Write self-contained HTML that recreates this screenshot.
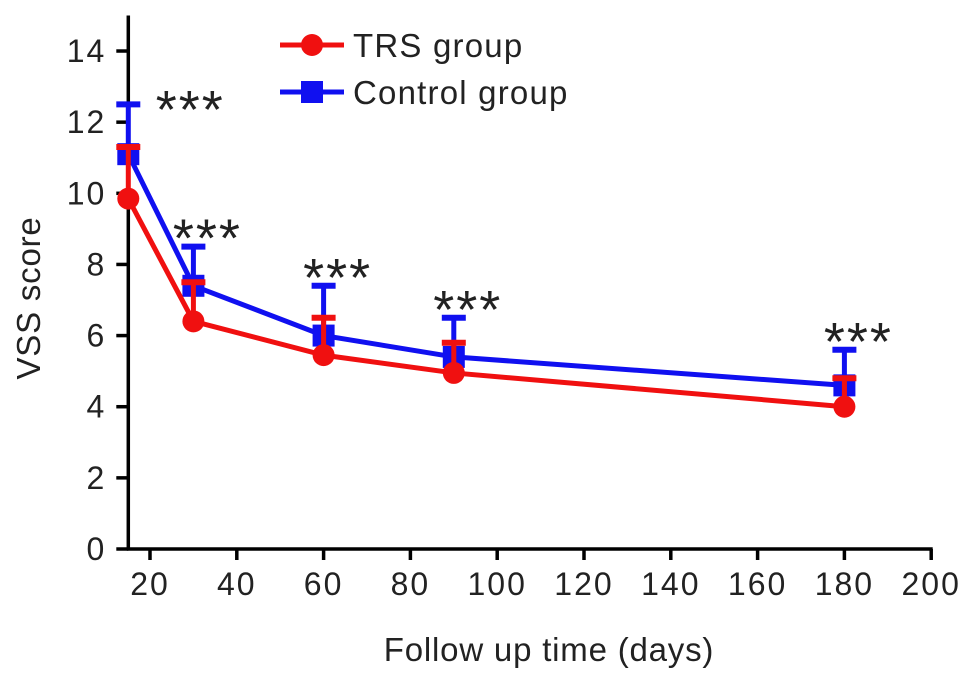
<!DOCTYPE html>
<html><head><meta charset="utf-8"><style>
body{margin:0;background:#fff}
svg text{font-family:"Liberation Sans",sans-serif}
</style></head><body>
<svg id="chart" width="969" height="681" viewBox="0 0 969 681">
<g id="axes"></g><g id="series"></g><g id="legend"></g>
</svg>
<script>
const days=[15,30,60,90,180];
const trsMean=[9.85,6.4,5.45,4.95,4.0];
const trsUpper=[11.3,7.5,6.5,5.8,4.8];
const ctrlMean=[11.1,7.4,6.0,5.4,4.6];
const ctrlUpper=[12.5,8.5,7.4,6.5,5.6];
const xTicks=[20,40,60,80,100,120,140,160,180,200];
const yTicks=[0,2,4,6,8,10,12,14];
const sigLabels=["***","***","***","***","***"];
const NS="http://www.w3.org/2000/svg";
const X=v=>150+(v-20)*4.34;
const Y=v=>549-v*35.57;
function mk(p,t,a){const e=document.createElementNS(NS,t);for(const k in a)e.setAttribute(k,a[k]);p.appendChild(e);return e;}
const ax=document.getElementById('axes'),se=document.getElementById('series'),lg=document.getElementById('legend');
let l=mk(ax,'line',{x1:X(15),y1:Y(15),x2:X(15),y2:Y(0)+1.5,stroke:'#000','stroke-width':3.5});

l=mk(ax,'line',{x1:X(15)-1.5,y1:Y(0),x2:X(200)+1.5,y2:Y(0),stroke:'#000','stroke-width':3.5});

xTicks.forEach(v=>{mk(ax,'line',{x1:X(v),y1:Y(0),x2:X(v),y2:Y(0)+11,stroke:'#000','stroke-width':3.5});
const t=mk(ax,'text',{x:X(v),y:Y(0)+46,'text-anchor':'middle','font-size':32,'letter-spacing':2,fill:'#222'});t.textContent=v;
});
yTicks.forEach(v=>{mk(ax,'line',{x1:X(15)-12,y1:Y(v),x2:X(15),y2:Y(v),stroke:'#000','stroke-width':3.5});
const t=mk(ax,'text',{x:X(15)-22,y:Y(v)+11,'text-anchor':'end','font-size':32,'letter-spacing':2,fill:'#222'});t.textContent=v;
});
let t=mk(ax,'text',{x:549,y:661,'text-anchor':'middle','font-size':33,'letter-spacing':0.8,fill:'#222'});t.textContent='Follow up time (days)';

t=mk(ax,'text',{x:0,y:0,'text-anchor':'middle','font-size':33,'letter-spacing':0.8,fill:'#222',transform:'translate(40,298) rotate(-90)'});t.textContent='VSS score';

function series(mean,upper,color,shape,name){
const g=mk(se,'g',{});
mk(g,'polyline',{points:days.map((d,i)=>X(d)+','+Y(mean[i])).join(' '),fill:'none',stroke:color,'stroke-width':5});
days.forEach((d,i)=>{const x=X(d);
mk(g,'line',{x1:x,y1:Y(mean[i]),x2:x,y2:Y(upper[i]),stroke:color,'stroke-width':5});
mk(g,'line',{x1:x-12,y1:Y(upper[i]),x2:x+12,y2:Y(upper[i]),stroke:color,'stroke-width':6});
let m=shape==='c'?mk(g,'circle',{cx:x,cy:Y(mean[i]),r:11,fill:color}):mk(g,'rect',{x:x-11,y:Y(mean[i])-11,width:22,height:22,fill:color});
});}
series(ctrlMean,ctrlUpper,'#1010f0','s','control-series');
series(trsMean,trsUpper,'#f01010','c','trs-series');
days.forEach((d,i)=>{const x=i===0?X(d)+62:X(d)+14;const cy=i===0?95:Y(ctrlUpper[i])-23;
const s=mk(ax,'text',{x:x,y:cy+33,'text-anchor':'middle','font-size':54,'letter-spacing':2,fill:'#222'});s.textContent=sigLabels[i];
});
[['TRS group','#f01010','c',45],['Control group','#1010f0','s',92]].forEach(([n,c,sh,y])=>{
const g=mk(lg,'g',{});
mk(g,'line',{x1:280,y1:y,x2:344,y2:y,stroke:c,'stroke-width':5});
if(sh==='c')mk(g,'circle',{cx:312,cy:y,r:11,fill:c});else mk(g,'rect',{x:301,y:y-11,width:22,height:22,fill:c});
const tt=mk(g,'text',{x:353,y:y+12,'font-size':33,'letter-spacing':1.2,fill:'#222'});tt.textContent=n;});
</script>
</body></html>
